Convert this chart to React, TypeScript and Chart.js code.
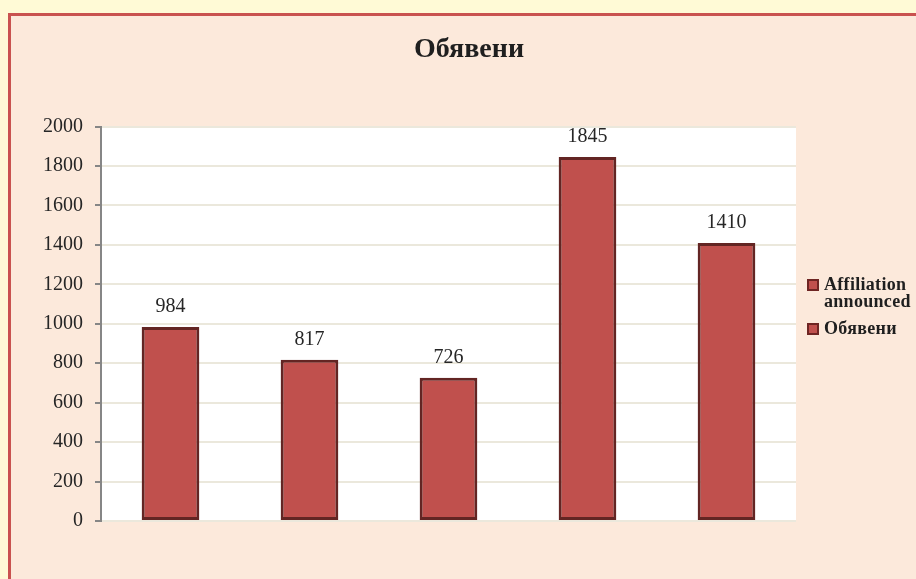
import React, { useEffect, useRef } from "react";
import { Chart, registerables } from "chart.js";

Chart.register(...registerables);

const chartTitle = "Обявени";
const categories = ["1", "2", "3", "4", "5"];
const values = [984, 817, 726, 1845, 1410];
const legendLabels: string[][] = [["Affiliation", "announced"], ["Обявени"]];
const yMin = 0;
const yMax = 2000;
const yStep = 200;

const SERIF = "'Liberation Serif', 'Times New Roman', serif";

const decorPlugin = {
  id: "decor",
  beforeDraw(chart: any) {
    const { ctx, chartArea } = chart;
    ctx.save();
    ctx.fillStyle = "#FFFFFF";
    ctx.fillRect(chartArea.left, chartArea.top, chartArea.right - chartArea.left, chartArea.bottom - chartArea.top);
    ctx.restore();
  },
  afterDraw(chart: any) {
    const { ctx } = chart;
    ctx.save();
    // title
    ctx.font = `bold 28px ${SERIF}`;
    ctx.fillStyle = "#1F1F1F";
    ctx.textAlign = "center";
    ctx.textBaseline = "middle";
    ctx.fillText(chartTitle, 469, 50);

    // data labels
    const meta = chart.getDatasetMeta(0);
    ctx.font = `20px ${SERIF}`;
    ctx.fillStyle = "#262626";
    meta.data.forEach((el: any, i: number) => {
      ctx.fillText(String(values[i]), el.x, el.y - 20);
    });

    // legend
    const boxX = 807;
    const textX = 824;
    const items = [
      { y: 285, lines: legendLabels[0] },
      { y: 329, lines: legendLabels[1] },
    ];
    ctx.textAlign = "left";
    ctx.font = `bold 18px ${SERIF}`;
    try {
      (ctx as any).letterSpacing = "0.3px";
    } catch (e) {}
    items.forEach((it) => {
      ctx.fillStyle = "#6E2523";
      ctx.fillRect(boxX, it.y - 6, 12, 12);
      ctx.fillStyle = "#C0504D";
      ctx.fillRect(boxX + 2, it.y - 4, 8, 8);
      ctx.fillStyle = "#1F1F1F";
      it.lines.forEach((ln, j) => {
        ctx.fillText(ln, textX, it.y + j * 17);
      });
    });
    ctx.restore();
  },
};

export default function App() {
  const ref = useRef<HTMLCanvasElement | null>(null);

  useEffect(() => {
    if (!ref.current) return;
    const chart = new Chart(ref.current, {
      type: "bar",
      data: {
        labels: categories,
        datasets: [
          {
            label: chartTitle,
            data: values,
            backgroundColor: "#C0504D",
            borderColor: "#632523",
            borderWidth: 3,
            borderSkipped: false,
            barPercentage: 0.415,
            categoryPercentage: 1,
          },
        ],
      },
      options: {
        animation: false,
        responsive: false,
        maintainAspectRatio: false,
        layout: { padding: { left: 0, top: 126.5, right: 120, bottom: 58 } },
        plugins: {
          legend: { display: false },
          title: { display: false },
          tooltip: { enabled: false },
        },
        scales: {
          x: {
            display: true,
            grid: { display: false, drawTicks: false },
            border: { display: false },
            ticks: { display: false },
          },
          y: {
            min: yMin,
            max: yMax,
            afterFit: (scale: any) => {
              scale.width = 101;
            },
            ticks: {
              stepSize: yStep,
              padding: 12,
              color: "#262626",
              font: { family: SERIF, size: 20 },
              callback: (v: any) => String(v),
            },
            grid: {
              color: "#EBE8DC",
              lineWidth: 2,
              tickColor: "#868686",
              tickLength: 6,
              tickWidth: 2,
            },
            border: { display: true, color: "#868686", width: 2 },
          },
        },
      },
      plugins: [decorPlugin],
    });
    return () => chart.destroy();
  }, []);

  return (
    <div style={{ position: "fixed", left: 0, top: 0, width: 916, height: 579, background: "#FFFAD6", overflow: "hidden" }}>
      <div
        style={{
          position: "absolute",
          left: 8,
          top: 13,
          width: 940,
          height: 620,
          background: "#FCE9DB",
          border: "3px solid #C9524F",
        }}
      />
      <canvas ref={ref} width={916} height={579} style={{ position: "absolute", left: 0, top: 0, width: 916, height: 579 }} />
    </div>
  );
}
